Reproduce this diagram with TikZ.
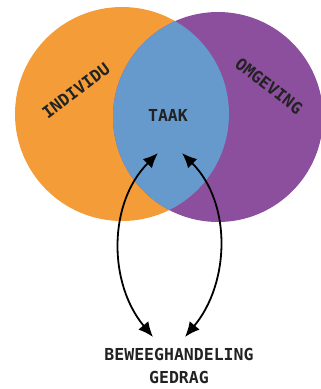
\documentclass[tikz,border=0pt]{standalone}
\usepackage{fontspec}
\setmonofont{DejaVu Sans Mono}
\usepackage{tikz}
\usetikzlibrary{arrows.meta}
\usetikzlibrary{positioning}
\definecolor{venn orange}{HTML}{F39C38}
\definecolor{venn purple}{HTML}{8C4F9D}
\definecolor{venn blue}{HTML}{6699CC}
\definecolor{venn text}{HTML}{222222}
\tikzset{label text/.style = {font=\ttfamily\bfseries\fontsize{16.5}{23}\selectfont,
                              text=venn text, inner sep=0pt},
         cycle arrow/.style = {{Latex[length=15pt, width=13pt]}-{Latex[length=15pt, width=13pt]},
                               line width=1.8pt}}

\begin{document}
\begin{tikzpicture}[x=1pt, y=-1pt]
      \useasboundingbox (0, 0) rectangle (321, 389);

      \fill [venn orange] (122, 114) circle (107);
      \fill [venn purple] (218, 117) circle (105);
      \begin{scope}
        \clip (122, 114) circle (107);
        \fill [venn blue] (218, 117) circle (105);
      \end{scope}

      \node [label text, rotate=37] (individu) at (76, 91) {INDIVIDU};
      \node [label text, rotate=-38] (omgeving) at (269, 86) {OMGEVING};
      \node [label text] (taak) at (168, 115) {TAAK};
      \node [label text, align=center] (gedrag) at (179, 366) {BEWEEGHANDELING\\GEDRAG};

      \coordinate (taak left) at (158, 153);
      \coordinate (taak right) at (182, 153);
      \coordinate (gedrag left) at (153, 337);
      \coordinate (gedrag right) at (185, 337);

      \draw [cycle arrow] (gedrag left) .. controls (108, 283) and (108, 203) .. (taak left);
      \draw [cycle arrow] (gedrag right) .. controls (230, 283) and (232, 203) .. (taak right);
    \end{tikzpicture}
\end{document}
